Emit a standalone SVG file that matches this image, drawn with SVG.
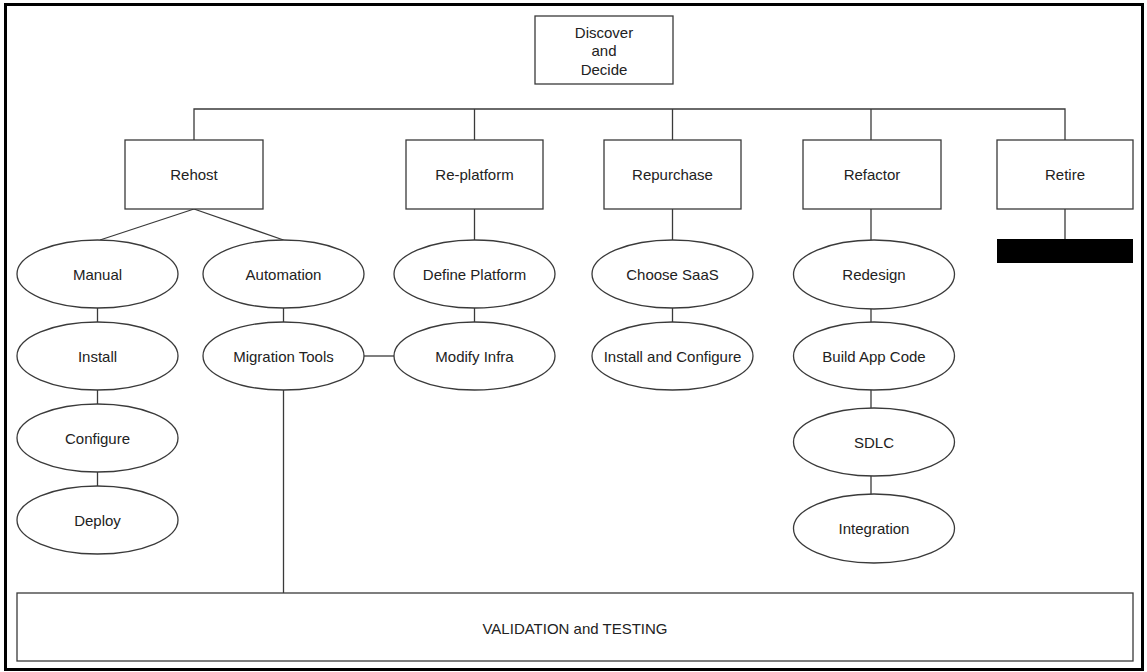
<svg xmlns="http://www.w3.org/2000/svg" width="1147" height="672" viewBox="0 0 1147 672">
  <style>
    .frame { fill: #ffffff; stroke: #000000; stroke-width: 3; }
    .box { fill: #ffffff; stroke: #3a3a3a; stroke-width: 1.3; }
    .oval { fill: #ffffff; stroke: #3a3a3a; stroke-width: 1.3; }
    .bar { fill: #000000; }
    .link { fill: none; stroke: #3a3a3a; stroke-width: 1.3; }
    .label { font-family: "Liberation Sans", Arial, sans-serif; font-size: 15px; fill: #222222; text-anchor: middle; dominant-baseline: central; }
  </style>

  <!-- outer frame -->
  <rect class="frame" x="5.5" y="4.5" width="1137" height="665"/>

  <!-- connectors -->
  <g id="connectors">
    <!-- bus under the top node -->
    <polyline class="link" points="194,140 194,109 1065,109 1065,140"/>
    <line class="link" x1="474.5" y1="109" x2="474.5" y2="140"/>
    <line class="link" x1="672.5" y1="109" x2="672.5" y2="140"/>
    <line class="link" x1="871" y1="109" x2="871" y2="140"/>
    <!-- Rehost split -->
    <line class="link" x1="194" y1="209" x2="100" y2="240"/>
    <line class="link" x1="194" y1="209" x2="283.5" y2="240"/>
    <!-- manual chain -->
    <line class="link" x1="97.5" y1="308" x2="97.5" y2="322"/>
    <line class="link" x1="97.5" y1="390" x2="97.5" y2="404"/>
    <line class="link" x1="97.5" y1="472" x2="97.5" y2="486"/>
    <!-- automation chain -->
    <line class="link" x1="283.5" y1="308" x2="283.5" y2="322"/>
    <line class="link" x1="283.5" y1="390" x2="283.5" y2="593"/>
    <line class="link" x1="364" y1="356" x2="394" y2="356"/>
    <!-- re-platform chain -->
    <line class="link" x1="474.5" y1="209" x2="474.5" y2="240"/>
    <line class="link" x1="474.5" y1="308" x2="474.5" y2="322"/>
    <!-- repurchase chain -->
    <line class="link" x1="672.5" y1="209" x2="672.5" y2="240"/>
    <line class="link" x1="672.5" y1="308" x2="672.5" y2="322"/>
    <!-- refactor chain -->
    <line class="link" x1="871" y1="209" x2="871" y2="240"/>
    <line class="link" x1="871" y1="309" x2="871" y2="322"/>
    <line class="link" x1="871" y1="390" x2="871" y2="408"/>
    <line class="link" x1="871" y1="476" x2="871" y2="494"/>
    <!-- retire -->
    <line class="link" x1="1065" y1="209" x2="1065" y2="239"/>
  </g>

  <g id="discover">
    <rect class="box" x="535" y="16" width="138" height="68"/>
    <text class="label" x="604" y="32">Discover</text>
    <text class="label" x="604" y="50">and</text>
    <text class="label" x="604" y="69">Decide</text>
  </g>

  <g id="rehost">
    <rect class="box" x="125" y="140" width="138" height="69"/>
    <text class="label" x="194" y="174.5">Rehost</text>
  </g>
  <g id="replatform">
    <rect class="box" x="406" y="140" width="137" height="69"/>
    <text class="label" x="474.5" y="174.5">Re-platform</text>
  </g>
  <g id="repurchase">
    <rect class="box" x="604" y="140" width="137" height="69"/>
    <text class="label" x="672.5" y="174.5">Repurchase</text>
  </g>
  <g id="refactor">
    <rect class="box" x="803" y="140" width="138" height="69"/>
    <text class="label" x="872" y="174.5">Refactor</text>
  </g>
  <g id="retire">
    <rect class="box" x="997" y="140" width="136" height="69"/>
    <text class="label" x="1065" y="174.5">Retire</text>
  </g>
  <g id="retire-bar">
    <rect class="bar" x="997" y="239" width="136" height="24"/>
  </g>

  <g id="manual">
    <ellipse class="oval" cx="97.5" cy="274" rx="80.5" ry="34"/>
    <text class="label" x="97.5" y="274">Manual</text>
  </g>
  <g id="install">
    <ellipse class="oval" cx="97.5" cy="356" rx="80.5" ry="34"/>
    <text class="label" x="97.5" y="356">Install</text>
  </g>
  <g id="configure">
    <ellipse class="oval" cx="97.5" cy="438" rx="80.5" ry="34"/>
    <text class="label" x="97.5" y="438">Configure</text>
  </g>
  <g id="deploy">
    <ellipse class="oval" cx="97.5" cy="520" rx="80.5" ry="34"/>
    <text class="label" x="97.5" y="520">Deploy</text>
  </g>

  <g id="automation">
    <ellipse class="oval" cx="283.5" cy="274" rx="80.5" ry="34"/>
    <text class="label" x="283.5" y="274">Automation</text>
  </g>
  <g id="migration-tools">
    <ellipse class="oval" cx="283.5" cy="356" rx="80.5" ry="34"/>
    <text class="label" x="283.5" y="356">Migration Tools</text>
  </g>

  <g id="define-platform">
    <ellipse class="oval" cx="474.5" cy="274" rx="80.5" ry="34"/>
    <text class="label" x="474.5" y="274">Define Platform</text>
  </g>
  <g id="modify-infra">
    <ellipse class="oval" cx="474.5" cy="356" rx="80.5" ry="34"/>
    <text class="label" x="474.5" y="356">Modify Infra</text>
  </g>

  <g id="choose-saas">
    <ellipse class="oval" cx="672.5" cy="274" rx="80.5" ry="34"/>
    <text class="label" x="672.5" y="274">Choose SaaS</text>
  </g>
  <g id="install-configure">
    <ellipse class="oval" cx="672.5" cy="356" rx="80.5" ry="34"/>
    <text class="label" x="672.5" y="356">Install and Configure</text>
  </g>

  <g id="redesign">
    <ellipse class="oval" cx="874" cy="274.5" rx="80.5" ry="34.5"/>
    <text class="label" x="874" y="274.5">Redesign</text>
  </g>
  <g id="build-app-code">
    <ellipse class="oval" cx="874" cy="356" rx="80.5" ry="34"/>
    <text class="label" x="874" y="356">Build App Code</text>
  </g>
  <g id="sdlc">
    <ellipse class="oval" cx="874" cy="442" rx="80.5" ry="34"/>
    <text class="label" x="874" y="442">SDLC</text>
  </g>
  <g id="integration">
    <ellipse class="oval" cx="874" cy="528.5" rx="80.5" ry="34.5"/>
    <text class="label" x="874" y="528.5">Integration</text>
  </g>

  <g id="validation">
    <rect class="box" x="17" y="593" width="1116" height="68"/>
    <text class="label" x="575" y="628">VALIDATION and TESTING</text>
  </g>
</svg>
